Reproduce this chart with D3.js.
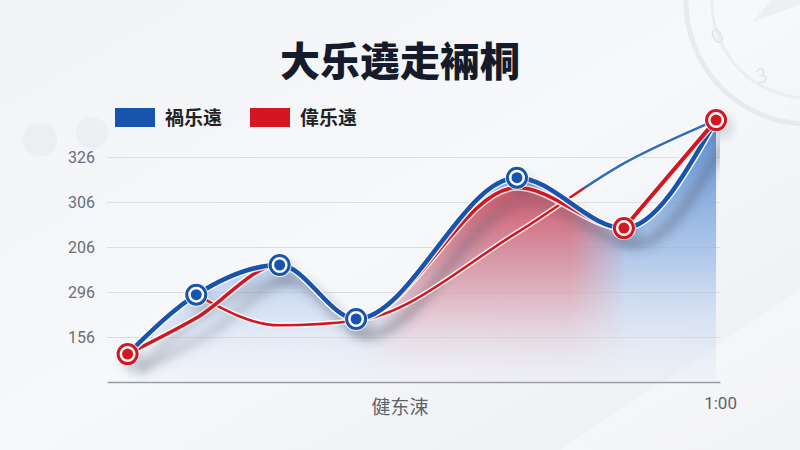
<!DOCTYPE html>
<html><head><meta charset="utf-8">
<script src="https://cdn.jsdelivr.net/npm/d3@7"></script>
<style>html,body{margin:0;padding:0;background:#f3f4f7;} svg{display:block;}</style>
</head><body><svg id="c" width="800" height="450"></svg>
<script>
// ---- data ----
const title = "大乐遶走裲桐";
const seriesNames = ["禍乐遠", "偉乐遠"];
const seriesColors = ["#1654ad", "#d3161f"];
const xAxisTitle = "健东涑";
const xValues = [0, 7, 15.5, 23.3, 39.7, 50.6, 60];
const xTickValues = [60];
const xTickLabels = ["1:00"];
const blueValues = [131, 197, 230, 170, 327, 271, 391];
const redValues = [131, 171, 230, 170, 316, 271, 391];
const trendValues = [null, 197, 163, 168, 266, 343, 391];
const blueMarkers = [1, 2, 3, 4];
const redMarkers = [0, 5, 6];
const yTickValues = [150, 200, 250, 300, 350];
const yTickLabels = ["156", "296", "206", "306", "326"];

// ---- setup ----
const W = 800, H = 450;
const svg = d3.select("#c");
const FONT = "'Noto Sans CJK SC','Noto Sans',sans-serif";
const x = d3.scaleLinear().domain([-2.1, 60.4]).range([107, 720]);
const y = d3.scaleLinear().domain([100, 350]).range([382, 157]);
const defs = svg.append("defs");

// background
const bg = defs.append("linearGradient").attr("id", "bg").attr("x1", 0).attr("y1", 0).attr("x2", 1).attr("y2", 1);
bg.append("stop").attr("offset", 0).attr("stop-color", "#f2f3f6");
bg.append("stop").attr("offset", 0.5).attr("stop-color", "#f7f8fa");
bg.append("stop").attr("offset", 1).attr("stop-color", "#eceef2");
svg.append("rect").attr("width", W).attr("height", H).attr("fill", "url(#bg)");
svg.append("path").attr("d", "M560,450 L800,290 L800,450 Z").attr("fill", "#ffffff").attr("opacity", 0.35);

// decorations
const deco = svg.append("g");
deco.append("circle").attr("cx", 808).attr("cy", 2).attr("r", 122).attr("fill", "none").attr("stroke", "#e8eaed").attr("stroke-width", 5);
deco.append("circle").attr("cx", 808).attr("cy", 2).attr("r", 96).attr("fill", "none").attr("stroke", "#ebedf0").attr("stroke-width", 3);
deco.append("path").attr("d", "M808,2 L752,22 L790,-20 Z").attr("fill", "#edeff2");
deco.append("text").attr("x", 716).attr("y", 45).attr("font-size", 20).attr("fill", "#e3e5e9").attr("font-family", FONT).attr("transform", "rotate(-30,716,45)").text("0");
deco.append("text").attr("x", 758).attr("y", 84).attr("font-size", 20).attr("fill", "#e3e5e9").attr("font-family", FONT).attr("transform", "rotate(-15,758,84)").text("3");
deco.append("circle").attr("cx", 40).attr("cy", 140).attr("r", 17).attr("fill", "#eceef1");
deco.append("circle").attr("cx", 92).attr("cy", 133).attr("r", 16).attr("fill", "#edeff2");

// title
svg.append("text").attr("x", 400).attr("y", 76).attr("text-anchor", "middle")
  .attr("font-family", FONT).attr("font-size", 40).attr("font-weight", 900).attr("fill", "#161b2b").text(title);

// legend
const leg = svg.append("g");
[0, 1].forEach(i => {
  const lx = 115 + i * 135;
  leg.append("rect").attr("x", lx).attr("y", 108).attr("width", 40).attr("height", 19).attr("fill", seriesColors[i]);
  leg.append("text").attr("x", lx + 50).attr("y", 125).attr("font-family", FONT).attr("font-size", 19).attr("font-weight", 700).attr("fill", "#222").text(seriesNames[i]);
});

// y axis + grid
const yAxis = d3.axisLeft(y).tickValues(yTickValues).tickFormat((d, i) => yTickLabels[i])
  .tickSize(-(x.range()[1] - x.range()[0])).tickPadding(12);
const gy = svg.append("g").attr("transform", `translate(${x.range()[0]},0)`).call(yAxis);
gy.select(".domain").remove();
gy.selectAll(".tick line").attr("stroke", "#dcdee3").attr("stroke-width", 1);
gy.selectAll(".tick text").attr("font-family", "Roboto,'Noto Sans',sans-serif").attr("font-size", 16).attr("fill", "#6a6e77");

// x axis
const xAxis = d3.axisBottom(x).tickValues(xTickValues).tickFormat((d, i) => xTickLabels[i]).tickSize(0).tickPadding(15);
const gx = svg.append("g").attr("transform", `translate(0,${y.range()[0]})`).call(xAxis);
gx.select(".domain").attr("stroke", "#9a9ca3").attr("stroke-width", 1.5);
gx.selectAll(".tick text").attr("font-family", "Roboto,'Noto Sans',sans-serif").attr("font-size", 17).attr("fill", "#5f636b").attr("dx", 4);
svg.append("text").attr("x", 400).attr("y", 414).attr("text-anchor", "middle").attr("font-family", FONT)
  .attr("font-size", 19).attr("fill", "#5f636b").text(xAxisTitle);

// gradients
const gB = defs.append("linearGradient").attr("id", "gB").attr("gradientUnits", "userSpaceOnUse")
  .attr("x1", 0).attr("y1", y(391)).attr("x2", 0).attr("y2", y(100));
gB.append("stop").attr("offset", 0).attr("stop-color", "#4f86d2").attr("stop-opacity", 0.95);
gB.append("stop").attr("offset", 0.5).attr("stop-color", "#8fb2e3").attr("stop-opacity", 0.7);
gB.append("stop").attr("offset", 1).attr("stop-color", "#dfe8f6").attr("stop-opacity", 0.2);
const gR = defs.append("linearGradient").attr("id", "gR").attr("gradientUnits", "userSpaceOnUse")
  .attr("x1", 0).attr("y1", y(320)).attr("x2", 0).attr("y2", y(100));
gR.append("stop").attr("offset", 0).attr("stop-color", "#e0444e").attr("stop-opacity", 0.85);
gR.append("stop").attr("offset", 0.55).attr("stop-color", "#ec9aa0").attr("stop-opacity", 0.6);
gR.append("stop").attr("offset", 1).attr("stop-color", "#f4dfe2").attr("stop-opacity", 0.05);
const gT = defs.append("linearGradient").attr("id", "gT").attr("gradientUnits", "userSpaceOnUse")
  .attr("x1", x(0)).attr("y1", 0).attr("x2", x(60)).attr("y2", 0);
gT.append("stop").attr("offset", 0.77).attr("stop-color", seriesColors[1]);
gT.append("stop").attr("offset", 0.78).attr("stop-color", "#2e6cc4");

// horizontal fade mask for the red area
const x0 = x(xValues[3]), x1 = x(xValues[5]);
const gM = defs.append("linearGradient").attr("id", "gM").attr("gradientUnits", "userSpaceOnUse")
  .attr("x1", x0).attr("y1", 0).attr("x2", x1).attr("y2", 0);
gM.append("stop").attr("offset", 0).attr("stop-color", "#fff").attr("stop-opacity", 0);
gM.append("stop").attr("offset", 0.2).attr("stop-color", "#fff").attr("stop-opacity", 1);
gM.append("stop").attr("offset", 0.8).attr("stop-color", "#fff").attr("stop-opacity", 1);
gM.append("stop").attr("offset", 1).attr("stop-color", "#fff").attr("stop-opacity", 0.1);
defs.append("mask").attr("id", "maskR").attr("maskUnits", "userSpaceOnUse")
  .attr("x", 0).attr("y", 0).attr("width", W).attr("height", H)
  .append("rect").attr("x", x0).attr("y", 0).attr("width", x1 - x0).attr("height", y(100)).attr("fill", "url(#gM)");

defs.append("clipPath").attr("id", "clipTop").append("rect")
  .attr("x", x(xValues[5])).attr("y", 0).attr("width", 200).attr("height", H);
defs.append("clipPath").attr("id", "clipPlot").append("rect")
  .attr("x", x.range()[0]).attr("y", 0).attr("width", x(60.4) - x.range()[0]).attr("height", y(100));
const sh = defs.append("filter").attr("id", "blur").attr("x", "-20%").attr("y", "-20%").attr("width", "140%").attr("height", "140%");
sh.append("feGaussianBlur").attr("stdDeviation", 5);

const bData = xValues.map((v, i) => ({ x: v, y: blueValues[i] }));
const rData = xValues.map((v, i) => ({ x: v, y: redValues[i] }));
const tData = xValues.map((v, i) => ({ x: v, y: trendValues[i] }));

const area = d3.area().x(d => x(d.x)).y0(y(100)).y1(d => y(d.y)).curve(d3.curveMonotoneX);
const line = d3.line().defined(d => d.y != null).x(d => x(d.x)).y(d => y(d.y)).curve(d3.curveMonotoneX);
const lineStraight = d3.line().x(d => x(d.x)).y(d => y(d.y));

// areas
svg.append("path").attr("d", area(bData)).attr("fill", "url(#gB)");
svg.append("path").attr("d", area(rData)).attr("fill", "url(#gR)").attr("mask", "url(#maskR)");

// shadows
const shG = svg.append("g").attr("clip-path", "url(#clipPlot)");
[bData, rData].forEach(dd => {
  shG.append("path").attr("d", line(dd)).attr("transform", "translate(12,16)").attr("fill", "none")
    .attr("stroke", "#5a6070").attr("stroke-opacity", 0.22).attr("stroke-width", 10).attr("filter", "url(#blur)");
});

function drawLine(d, color, w, extra) {
  const g = svg.append("g");
  if (extra) g.attr("clip-path", extra);
  g.append("path").attr("d", d).attr("fill", "none").attr("stroke", "#fff").attr("stroke-width", w + 3).attr("stroke-opacity", 0.85).attr("stroke-linecap", "round");
  g.append("path").attr("d", d).attr("fill", "none").attr("stroke", color).attr("stroke-width", w).attr("stroke-linecap", "round");
}
drawLine(line(tData), "url(#gT)", 2.5);
drawLine(line(rData), seriesColors[1], 3.5);
drawLine(line(bData), seriesColors[0], 4.5);
drawLine(lineStraight(rData.slice(5)), seriesColors[1], 4, "url(#clipTop)");

// markers
function markers(dd, idx, color) {
  const g = svg.append("g");
  idx.forEach(i => {
    const d = dd[i];
    g.append("circle").attr("cx", x(d.x) + 5).attr("cy", y(d.y) + 7).attr("r", 12).attr("fill", "#50586a").attr("opacity", 0.18).attr("filter", "url(#blur)");
    g.append("circle").attr("cx", x(d.x)).attr("cy", y(d.y)).attr("r", 12).attr("fill", "#fff").attr("opacity", 0.8);
    g.append("circle").attr("cx", x(d.x)).attr("cy", y(d.y)).attr("r", 9.5).attr("fill", "#fff").attr("stroke", color).attr("stroke-width", 3);
    g.append("circle").attr("cx", x(d.x)).attr("cy", y(d.y)).attr("r", 5.5).attr("fill", color);
  });
}
markers(bData, blueMarkers, seriesColors[0]);
markers(rData, redMarkers, seriesColors[1]);
</script></body></html>
